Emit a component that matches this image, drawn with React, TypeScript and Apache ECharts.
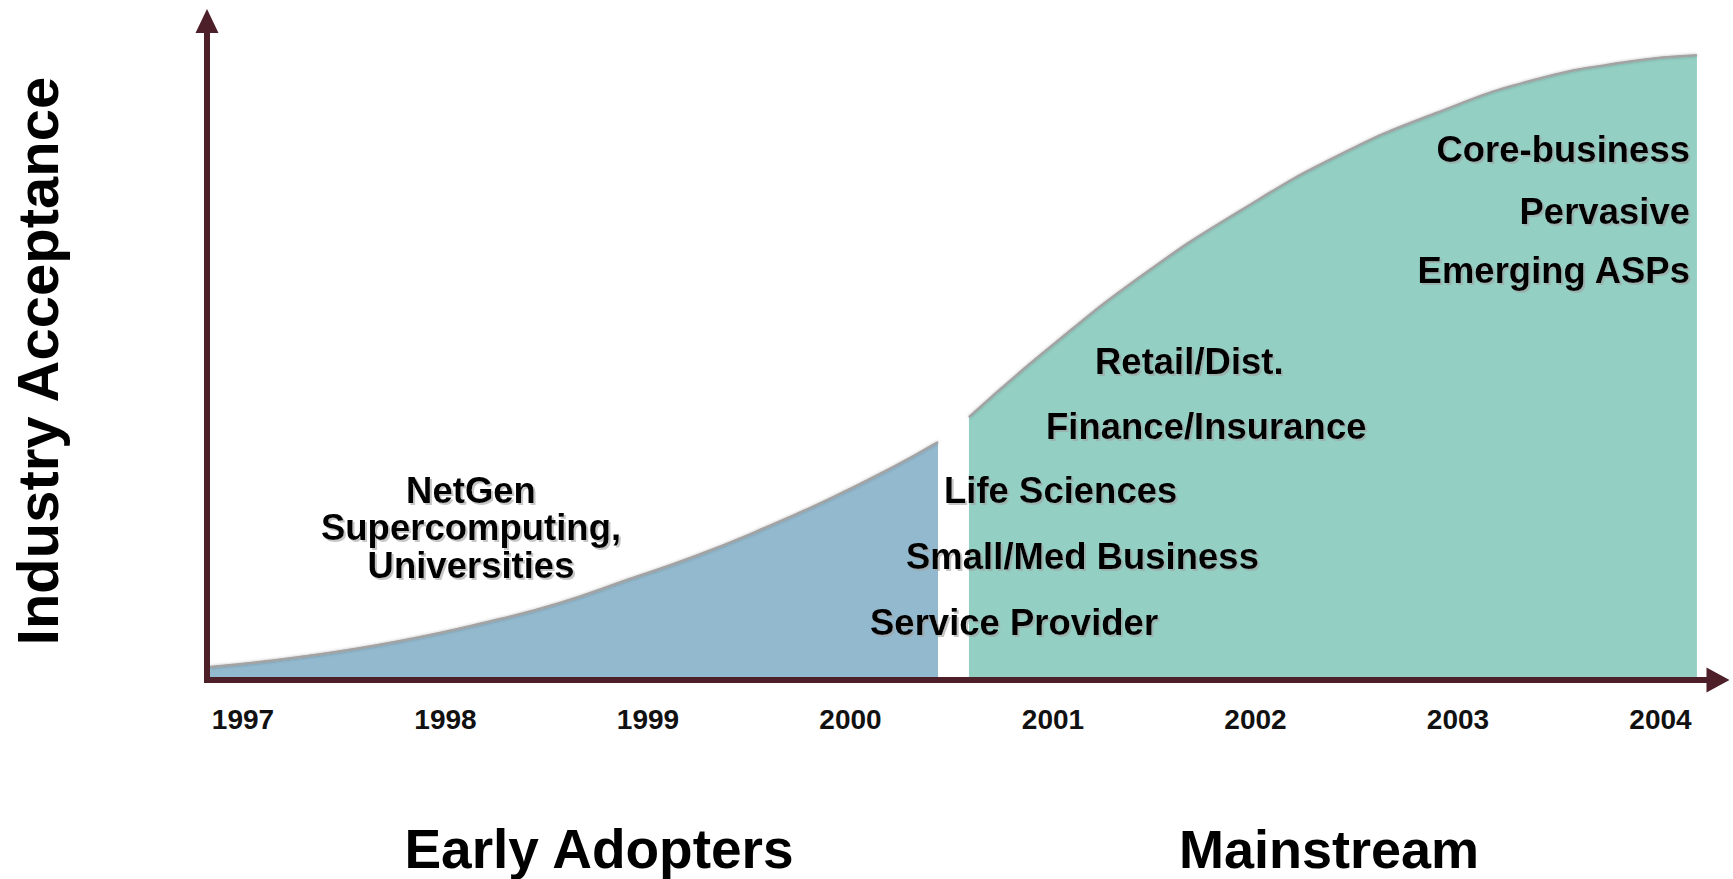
import React, { useEffect, useRef } from "react";
import * as echarts from "echarts";

// ---- data ----
const years = [1997, 1998, 1999, 2000, 2001, 2002, 2003, 2004];
const earlyX = [1996.837, 1997.281, 1997.775, 1998.269, 1998.565, 1998.896, 1999.222, 1999.553, 1999.884, 2000.21, 2000.432];
const earlyY = [1.97, 3.49, 5.92, 9.26, 11.68, 15.17, 18.66, 22.76, 27.31, 32.32, 36.12];
const mainX = [2000.585, 2000.97, 2001.45, 2001.93, 2002.41, 2002.89, 2003.37, 2003.84, 2004.18];
const mainY = [39.9, 50.1, 61.6, 71.3, 79.6, 86.0, 91.0, 93.8, 94.8];
const earlyLabel = ["NetGen", "Supercomputing,", "Universities"];
const midLabels = ["Service Provider", "Small/Med Business", "Life Sciences", "Finance/Insurance", "Retail/Dist."];
const topLabels = ["Core-business", "Pervasive", "Emerging ASPs"];
const phaseLabels = ["Early Adopters", "Mainstream"];
const yTitle = "Industry Acceptance";

const FONT = '"Liberation Sans", Arial, Helvetica, sans-serif';
const AXIS = "#4d1f29";

export default function App() {
  const ref = useRef<HTMLDivElement>(null);
  useEffect(() => {
    document.body.style.margin = "0";
    document.body.style.overflow = "hidden";
    const chart = echarts.init(ref.current!, null, { renderer: "svg" });
    const shadow = {
      textShadowColor: "rgba(160,160,160,0.6)",
      textShadowOffsetX: 2,
      textShadowOffsetY: 2,
      textShadowBlur: 1,
    };
    const labelStyle = (text: string, align: string) => ({
      text,
      fontFamily: FONT,
      fontWeight: "bold",
      fontSize: 36.5,
      fill: "#000",
      align,
      verticalAlign: "middle",
      ...shadow,
    });
    const midPos = [
      [870, 622],
      [906, 556],
      [944, 490],
      [1046, 426],
      [1095, 361],
    ];
    const topY = [149, 211, 270];
    const phasePos = [599, 1329];
    const phaseSize = [55, 54];

    const graphic: any[] = [];
    earlyLabel.forEach((t, i) => {
      graphic.push({ type: "text", x: 471, y: 490 + i * 37.5, style: labelStyle(t, "center"), z: 20 });
    });
    midLabels.forEach((t, i) => {
      graphic.push({ type: "text", x: midPos[i][0], y: midPos[i][1], style: labelStyle(t, "left"), z: 20 });
    });
    topLabels.forEach((t, i) => {
      graphic.push({ type: "text", x: 1690, y: topY[i], style: labelStyle(t, "right"), z: 20 });
    });
    phaseLabels.forEach((t, i) => {
      graphic.push({
        type: "text",
        x: phasePos[i],
        y: 849,
        style: { text: t, fontFamily: FONT, fontWeight: "bold", fontSize: phaseSize[i], fill: "#000", align: "center", verticalAlign: "middle" },
      });
    });
    graphic.push({
      type: "text",
      x: 37,
      y: 361,
      rotation: Math.PI / 2,
      style: { text: yTitle, fontFamily: FONT, fontWeight: "bold", fontSize: 58, fill: "#000", align: "center", verticalAlign: "middle" },
    });

    const edge = {
      color: "#a3a3a3",
      width: 2.5,
      shadowColor: "rgba(0,0,0,0.25)",
      shadowBlur: 3,
    };

    chart.setOption({
      animation: false,
      backgroundColor: "#fff",
      grid: { left: 207, right: 15, top: 21, bottom: 199 },
      xAxis: {
        type: "value",
        min: 1996.8222,
        max: 2004.284,
        z: 10,
        axisLine: {
          show: true,
          onZero: false,
          symbol: ["none", "triangle"],
          symbolSize: [25, 23],
          lineStyle: { color: AXIS, width: 6, cap: "square" },
        },
        axisTick: { show: false },
        splitLine: { show: false },
        axisLabel: {
          customValues: years,
          formatter: (v: number) => String(Math.round(v)),
          fontFamily: FONT,
          fontWeight: "bold",
          fontSize: 28,
          color: "#111",
          margin: 25,
        },
      },
      yAxis: {
        type: "value",
        min: 0,
        max: 100,
        z: 10,
        axisLine: {
          show: true,
          symbol: ["none", "triangle"],
          symbolSize: [23, 24],
          lineStyle: { color: AXIS, width: 6, cap: "square" },
        },
        axisTick: { show: false },
        axisLabel: { show: false },
        splitLine: { show: false },
      },
      series: [
        {
          type: "line",
          data: earlyX.map((x, i) => [x, earlyY[i]]),
          smooth: 0.5,
          showSymbol: false,
          lineStyle: edge,
          areaStyle: { color: "#93b9ce", opacity: 1 },
          silent: true,
        },
        {
          type: "line",
          data: mainX.map((x, i) => [x, mainY[i]]),
          smooth: 0.5,
          showSymbol: false,
          lineStyle: edge,
          areaStyle: { color: "#94cfc4", opacity: 1 },
          silent: true,
        },
      ],
      graphic,
    });
    return () => chart.dispose();
  }, []);
  return <div ref={ref} style={{ width: 1733, height: 879 }} />;
}
